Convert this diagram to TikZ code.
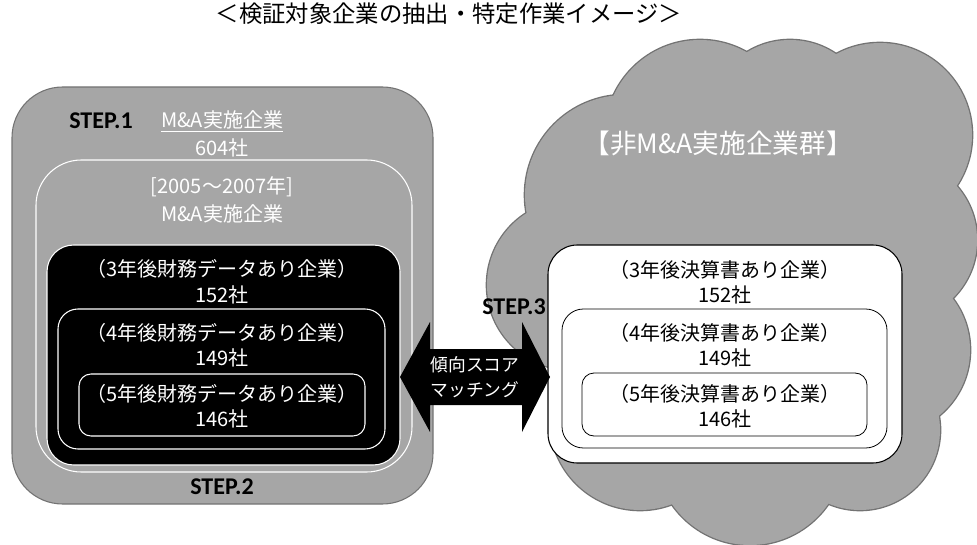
\documentclass[tikz,border=0pt]{standalone}
\usepackage{fontspec}
\setmainfont{Noto Sans CJK JP}
\newfontfamily\stepfont{Carlito}
\definecolor{boxgray}{RGB}{166,166,166}
\definecolor{edgegray}{RGB}{115,115,115}
\begin{document}
\begin{tikzpicture}[x=0.75pt,y=-0.75pt,
  lbl/.style={inner sep=0pt, font=\fontsize{15pt}{17pt}\selectfont},
  wlbl/.style={lbl, text=white},
  blbl/.style={lbl, text=black},
  steplbl/.style={inner sep=0pt, text=black, font=\stepfont\bfseries\fontsize{18pt}{20pt}\selectfont},
]
\useasboundingbox (0,0) rectangle (977,545);
% title
\node[inner sep=0pt, font=\fontsize{17.5pt}{19pt}\selectfont] (title) at (449,14) {＜検証対象企業の抽出・特定作業イメージ＞};

% cloud
\def\cloudlist{700/135/95, 790/122/82, 880/135/92, 895/240/82, 625/195/100, 572/285/85, 885/350/85, 640/420/90, 750/450/95, 860/430/80, 750/280/150}
\foreach \cx/\cy/\r in \cloudlist {\draw[edgegray, line width=2pt] (\cx,\cy) circle[radius=\r];}
\foreach \cx/\cy/\r in \cloudlist {\fill[boxgray] (\cx,\cy) circle[radius=\r];}
\node[inner sep=0pt, text=white, font=\fontsize{20pt}{22pt}\selectfont] (nonma) at (718,143) {【非M\&A実施企業群】};

% left boxes
\draw[edgegray, fill=boxgray, line width=0.8pt, rounded corners=38pt] (12,87) rectangle (433,504);
\draw[white, line width=0.8pt, rounded corners=34pt] (36,160) rectangle (412,472);
\draw[white, fill=black, line width=0.8pt, rounded corners=20pt] (47,245) rectangle (400,465);
\draw[white, line width=0.8pt, rounded corners=15pt] (58,309) rectangle (385,449);
\draw[white, line width=0.8pt, rounded corners=9pt] (79,374) rectangle (365,436);

\node[steplbl] (step1) at (101,121) {STEP.1};
\node[wlbl] (ma) at (222,121) {\underline{M\&A実施企業}};
\node[wlbl] (n604) at (222,148) {604社};
\node[wlbl] (years) at (222,187) {[2005～2007年]};
\node[wlbl] (ma2) at (222,214) {M\&A実施企業};
\node[wlbl] (l3) at (222,269) {（3年後財務データあり企業）};
\node[wlbl] (l3n) at (222,295) {152社};
\node[wlbl] (l4) at (222,333) {（4年後財務データあり企業）};
\node[wlbl] (l4n) at (222,358) {149社};
\node[wlbl] (l5) at (222,394) {（5年後財務データあり企業）};
\node[wlbl] (l5n) at (222,419) {146社};
\node[steplbl] (step2) at (222,487) {STEP.2};

% right boxes
\draw[black, fill=white, line width=0.8pt, rounded corners=22pt] (548,245) rectangle (902,463);
\draw[black, line width=0.6pt, rounded corners=16pt] (562,309) rectangle (887,448);
\draw[black, line width=0.6pt, rounded corners=9pt] (582,373) rectangle (867,436);

\node[blbl] (r3) at (725,270) {（3年後決算書あり企業）};
\node[blbl] (r3n) at (725,295) {152社};
\node[blbl] (r4) at (725,333) {（4年後決算書あり企業）};
\node[blbl] (r4n) at (725,358) {149社};
\node[blbl] (r5) at (725,394) {（5年後決算書あり企業）};
\node[blbl] (r5n) at (725,419) {146社};
\node[steplbl] (step3) at (514,307) {STEP.3};

% double arrow
\coordinate (ltip) at (400,377);
\coordinate (rtip) at (550,377);
\fill[black] (ltip) -- (430,322) -- (430,349) -- (522,349) -- (522,322) -- (rtip) -- (522,432) -- (522,405) -- (430,405) -- (430,432) -- cycle;
\node[inner sep=0pt, text=white, font=\fontsize{13.3pt}{15pt}\selectfont] (psm1) at (475,365) {傾向スコア};
\node[inner sep=0pt, text=white, font=\fontsize{13.3pt}{15pt}\selectfont] (psm2) at (475,390) {マッチング};
\end{tikzpicture}
\end{document}
